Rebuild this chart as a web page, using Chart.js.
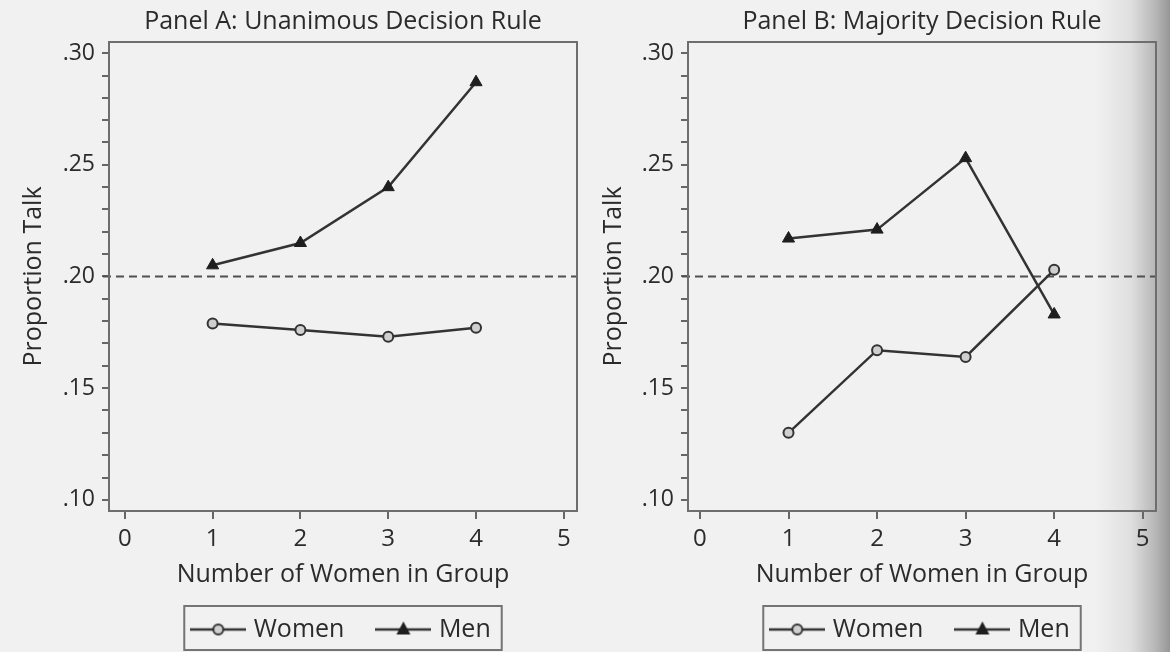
<!DOCTYPE html>
<html>
<head>
<meta charset="utf-8">
<script src="https://cdn.jsdelivr.net/npm/chart.js@4.4.1/dist/chart.umd.min.js"></script>
<style>
  html, body { margin: 0; padding: 0; }
  body {
    width: 1170px;
    height: 652px;
    overflow: hidden;
    position: relative;
    background: linear-gradient(to right, #f1f1f1 0px, #f1f1f1 1095px, #e0e0e0 1130px, #b8b8b8 1155px, #969696 1170px);
  }
  .panel { position: absolute; top: 0; width: 585px; height: 652px; }
  #panelA { left: 0; }
  #panelB { left: 585px; }
</style>
</head>
<body>
<div class="panel" id="panelA"><canvas id="chartA" width="585" height="652"></canvas></div>
<div class="panel" id="panelB"><canvas id="chartB" width="585" height="652"></canvas></div>
<script>
// number of women in the group (x)
const womenInGroup = [1, 2, 3, 4];
const xTicks = [0, 1, 2, 3, 4, 5];
const yLabelled = [0.10, 0.15, 0.20, 0.25, 0.30];
const yTicks = [0.10, 0.11, 0.12, 0.13, 0.14, 0.15, 0.16, 0.17, 0.18, 0.19, 0.20,
                0.21, 0.22, 0.23, 0.24, 0.25, 0.26, 0.27, 0.28, 0.29, 0.30];
const equalShare = 0.20;
const seriesNames = ['Women', 'Men'];

// Panel A: unanimous rule
const unanimousWomen = [0.179, 0.176, 0.173, 0.177];
const unanimousMen = [0.205, 0.215, 0.240, 0.287];
// Panel B: majority rule
const majorityWomen = [0.130, 0.167, 0.164, 0.203];
const majorityMen = [0.217, 0.221, 0.253, 0.183];

const ink = '#2b2b2b';
const lineColor = '#333333';
const frameColor = '#6e6e6e';

Chart.defaults.font.family = '"Open Sans", sans-serif';
Chart.defaults.color = ink;

function legendSymbol(kind) {
  const c = document.createElement('canvas');
  c.width = 56;
  c.height = 20;
  const g = c.getContext('2d');
  g.strokeStyle = lineColor;
  g.lineWidth = 2.5;
  g.beginPath();
  g.moveTo(0, 10);
  g.lineTo(56, 10);
  g.stroke();
  if (kind === 'circle') {
    g.beginPath();
    g.arc(28, 10, 5, 0, Math.PI * 2);
    g.fillStyle = '#cfcfcf';
    g.fill();
    g.lineWidth = 2;
    g.stroke();
  } else {
    g.beginPath();
    g.moveTo(28, 2);
    g.lineTo(35, 15);
    g.lineTo(21, 15);
    g.closePath();
    g.fillStyle = '#1e1e1e';
    g.fill();
  }
  return c;
}
const legendSymbols = [legendSymbol('circle'), legendSymbol('triangle')];

// frame round the plot region plus the dashed .20 reference line
const framePlugin = {
  id: 'frame',
  beforeDatasetsDraw(chart) {
    const {ctx, chartArea: a, scales: {y}} = chart;
    ctx.save();
    const yy = y.getPixelForValue(equalShare);
    ctx.strokeStyle = '#505050';
    ctx.lineWidth = 2;
    ctx.setLineDash([8, 5]);
    ctx.beginPath();
    ctx.moveTo(a.left - 6, yy);
    ctx.lineTo(a.right, yy);
    ctx.stroke();
    ctx.setLineDash([]);
    ctx.strokeStyle = frameColor;
    ctx.strokeRect(a.left, a.top, a.right - a.left, a.bottom - a.top);
    ctx.restore();
  },
  afterDraw(chart) {
    const boxes = chart.legend.legendHitBoxes;
    if (!boxes || !boxes.length) return;
    const left = Math.min(...boxes.map(b => b.left)) - 11;
    const right = Math.max(...boxes.map(b => b.left + b.width)) + 11;
    const top = Math.min(...boxes.map(b => b.top)) - 11;
    const bottom = Math.max(...boxes.map(b => b.top + b.height)) + 8;
    const ctx = chart.ctx;
    ctx.save();
    ctx.strokeStyle = '#747474';
    ctx.lineWidth = 2;
    ctx.strokeRect(left, top, right - left, bottom - top);
    ctx.restore();
  }
};

function makePanel(id, title, women, men, opts) {
  return new Chart(document.getElementById(id), {
    type: 'line',
    data: {
      datasets: [
        {
          label: seriesNames[0],
          data: womenInGroup.map((x, i) => ({x: x, y: women[i]})),
          borderColor: lineColor,
          borderWidth: 2.5,
          pointStyle: 'circle',
          pointRadius: 5,
          pointBackgroundColor: '#cfcfcf',
          pointBorderColor: lineColor,
          pointBorderWidth: 2,
          tension: 0
        },
        {
          label: seriesNames[1],
          data: womenInGroup.map((x, i) => ({x: x, y: men[i]})),
          borderColor: lineColor,
          borderWidth: 2.5,
          pointStyle: 'triangle',
          pointRadius: 7,
          pointBackgroundColor: '#1e1e1e',
          pointBorderColor: '#1e1e1e',
          pointBorderWidth: 1,
          tension: 0
        }
      ]
    },
    options: {
      responsive: false,
      animation: false,
      layout: { padding: { left: 0, right: opts.rightPad, top: 0, bottom: 0 } },
      scales: {
        x: {
          type: 'linear',
          min: opts.xMin,
          max: 5.15,
          afterBuildTicks: s => { s.ticks = xTicks.map(v => ({value: v})); },
          afterFit: s => { s.height = 96; },
          ticks: { padding: 6, font: { size: 24 }, color: ink },
          grid: { drawOnChartArea: false, drawTicks: true, tickLength: 8, color: '#666', lineWidth: 2 },
          border: { display: false },
          title: {
            display: true,
            text: 'Number of Women in Group',
            font: { size: 25 },
            color: ink,
            padding: { top: 0, bottom: 17 }
          }
        },
        y: {
          min: 0.095,
          max: 0.305,
          afterBuildTicks: s => { s.ticks = yTicks.map(v => ({value: v})); },
          afterFit: s => { s.width = opts.yWidth; },
          ticks: {
            autoSkip: false,
            padding: 7,
            font: { size: 23 },
            color: ink,
            callback: v => yLabelled.some(l => Math.abs(l - v) < 1e-9) ? '.' + Math.round(v * 100) : ''
          },
          grid: { drawOnChartArea: false, drawTicks: true, tickLength: 7, color: '#666', lineWidth: 2 },
          border: { display: false },
          title: {
            display: true,
            text: 'Proportion Talk',
            font: { size: 25 },
            color: ink,
            padding: { top: opts.yTitlePad, bottom: 0 }
          }
        }
      },
      plugins: {
        title: {
          display: true,
          text: title,
          fullSize: false,
          font: { size: 25, weight: 'normal' },
          color: ink,
          padding: { top: 7, bottom: 5 }
        },
        legend: {
          position: 'bottom',
          fullSize: false,
          labels: {
            usePointStyle: true,
            pointStyleWidth: 46,
            font: { size: 25 },
            color: ink,
            padding: 10,
            generateLabels: chart => Chart.defaults.plugins.legend.labels.generateLabels(chart).map((item, i) => ({
              ...item,
              pointStyle: legendSymbols[i],
              text: i === 0 ? item.text + '\u00a0\u00a0\u00a0\u00a0' : item.text
            }))
          }
        },
        tooltip: { enabled: false }
      }
    },
    plugins: [framePlugin]
  });
}

makePanel('chartA', 'Panel A: Unanimous Decision Rule', unanimousWomen, unanimousMen,
  { xMin: -0.18, yWidth: 109, rightPad: 4, yTitlePad: 19 });
makePanel('chartB', 'Panel B: Majority Decision Rule', majorityWomen, majorityMen,
  { xMin: -0.135, yWidth: 103, rightPad: 14, yTitlePad: 14 });
</script>
</body>
</html>
